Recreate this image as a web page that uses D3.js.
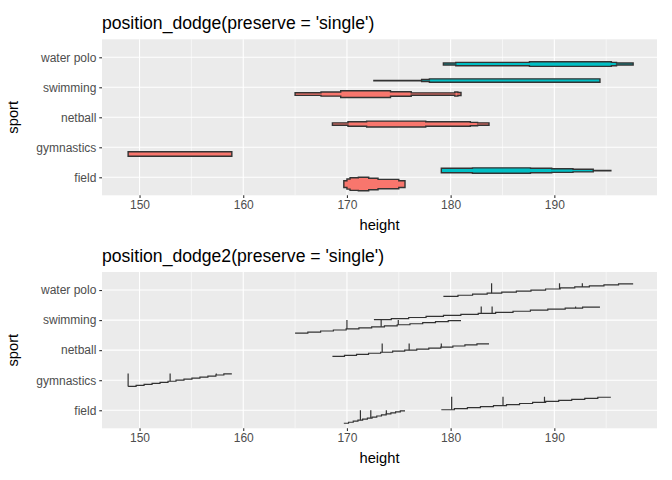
<!DOCTYPE html>
<html><head><meta charset="utf-8">
<script src="https://cdn.jsdelivr.net/npm/d3@7"></script>
<style>body{margin:0;background:#fff}svg{display:block;font-family:"Liberation Sans",Arial,sans-serif}</style>
</head><body><svg id="c" width="672" height="480"></svg>
<script>
// ---- data ----
const sports = ["field", "gymnastics", "netball", "swimming", "water polo"];
const xTicks = [150, 160, 170, 180, 190];
const xMinor = [155, 165, 175, 185, 195];
const groupSport = ["field", "field", "gymnastics", "netball", "swimming", "swimming", "water polo"];
const groupSex = ["F", "M", "F", "F", "F", "M", "M"];
// step breaks (height) and relative violin widths between breaks
const breaks = [
  [169.7, 170.0, 170.3, 171.1, 172.1, 173.0, 175.0, 175.6],
  [179.1, 182.1, 187.7, 189.75, 191.8, 193.75, 195.45],
  [148.9, 158.9],
  [168.6, 170.1, 171.9, 177.6, 181.9, 182.6, 183.7],
  [165.0, 167.5, 169.4, 174.2, 176.2, 180.4, 180.7, 181.0],
  [172.6, 177.2, 177.95, 194.4],
  [179.3, 180.5, 187.6, 195.5, 196.0, 197.6]
];
const widths = [
  [0.5, 0.75, 0.93, 1.0, 0.85, 0.7, 0.5],
  [0.33, 0.4, 0.33, 0.27, 0.2, 0.02],
  [0.33],
  [0.18, 0.33, 0.44, 0.33, 0.25, 0.18],
  [0.2, 0.31, 0.5, 0.33, 0.18, 0.3, 0.22],
  [0.02, 0.15, 0.25],
  [0.15, 0.25, 0.34, 0.25, 0.15]
];
// vertical spikes in the dodge2 panel (heights)
const spikes = [
  [171.3, 172.3, 173.8],
  [180.1, 185.05, 189.05],
  [148.9, 152.95, 157.4],
  [173.4, 176.0, 179.1],
  [170.0, 173.3, 174.95],
  [182.95, 184.0, 192.05],
  [183.95, 190.5, 192.7]
];
const sexColor = {F: "#F8766D", M: "#00BFC4"};

// ---- layout ----
const svg = d3.select("#c");
const L = 102, R = 657;
const x = d3.scaleLinear().domain([146.38, 199.9]).range([L, R]);
const panels = [
  {top: 39.3, bottom: 195.3, title: "position_dodge(preserve = 'single')", kind: 1},
  {top: 272, bottom: 428.3, title: "position_dodge2(preserve = 'single')", kind: 2}
];
const nSteps = 13;
const slotW = 0.45;
const FONT = "Liberation Sans, Arial, sans-serif";

panels.forEach(p => {
  const y = d3.scalePoint().domain(sports).range([p.bottom, p.top]).padding(0.6);
  const step = y.step();
  const g = svg.append("g");
  g.append("rect").attr("x", L).attr("y", p.top).attr("width", R - L).attr("height", p.bottom - p.top).attr("fill", "#EBEBEB");
  g.selectAll(".mn").data(xMinor).join("line").attr("x1", d => x(d)).attr("x2", d => x(d))
    .attr("y1", p.top).attr("y2", p.bottom).attr("stroke", "#fff").attr("stroke-width", 0.55);
  g.selectAll(".mj").data(xTicks).join("line").attr("x1", d => x(d)).attr("x2", d => x(d))
    .attr("y1", p.top).attr("y2", p.bottom).attr("stroke", "#fff").attr("stroke-width", 1.1);
  g.selectAll(".my").data(sports).join("line").attr("x1", L).attr("x2", R)
    .attr("y1", d => y(d)).attr("y2", d => y(d)).attr("stroke", "#fff").attr("stroke-width", 1.1);

  const idx = d3.range(groupSport.length);
  if (p.kind === 1) {
    idx.forEach(i => {
      const present = idx.filter(j => groupSport[j] === groupSport[i]);
      const k = present.indexOf(i);
      const off = (k - 0.5) * slotW; // two slots preserved
      const cy = y(groupSport[i]) - off * step;
      const b = breaks[i], w = widths[i];
      const hw = v => v * (slotW / 2) * step;
      let top = [], bot = [];
      for (let s = 0; s < w.length; s++) {
        top.push([x(b[s]), cy - hw(w[s])], [x(b[s + 1]), cy - hw(w[s])]);
        bot.push([x(b[s]), cy + hw(w[s])], [x(b[s + 1]), cy + hw(w[s])]);
      }
      const pts = top.concat(bot.reverse());
      g.append("path").attr("d", d3.line()(pts) + "Z")
        .attr("fill", sexColor[groupSex[i]]).attr("stroke", "#333333").attr("stroke-width", 1.4)
        .attr("stroke-linejoin", "miter");
    });
  } else {
    idx.forEach(i => {
      const present = idx.filter(j => groupSport[j] === groupSport[i]);
      const k = present.indexOf(i);
      const total = present.length * slotW;
      const lo = -total / 2 + k * slotW, hi = lo + slotW;
      const yc = y(groupSport[i]);
      const h0 = breaks[i][0], h1 = breaks[i][breaks[i].length - 1];
      const yAt = h => {
        let s = Math.min(nSteps - 1, Math.floor((h - h0) / (h1 - h0) * nSteps));
        return yc - (lo + (s + 0.5) / nSteps * slotW) * step;
      };
      const pts = [];
      for (let s = 0; s < nSteps; s++) {
        const yy = yc - (lo + (s + 0.5) / nSteps * slotW) * step;
        pts.push([x(h0 + (h1 - h0) * s / nSteps), yy], [x(h0 + (h1 - h0) * (s + 1) / nSteps), yy]);
      }
      g.append("path").attr("d", d3.line()(pts)).attr("fill", "none")
        .attr("stroke", "#333333").attr("stroke-width", 1.2);
      g.selectAll(null).data(spikes[i]).join("line")
        .attr("x1", d => x(d)).attr("x2", d => x(d))
        .attr("y1", d => yAt(d)).attr("y2", yc - hi * step)
        .attr("stroke", "#333333").attr("stroke-width", 1.2);
    });
  }

  // axes
  const ax = g.append("g").attr("transform", `translate(0,${p.bottom})`)
    .call(d3.axisBottom(x).tickValues(xTicks).tickSize(2.75).tickPadding(2.9).tickFormat(d3.format("d")));
  ax.select(".domain").remove();
  ax.selectAll("line").attr("stroke", "#333333").attr("stroke-width", 1.1);
  ax.selectAll("text").attr("fill", "#4D4D4D").attr("font-size", "12px").attr("font-family", FONT);
  const ay = g.append("g").attr("transform", `translate(${L},0)`)
    .call(d3.axisLeft(y).tickSize(2.75).tickPadding(2.9));
  ay.select(".domain").remove();
  ay.selectAll("line").attr("stroke", "#333333").attr("stroke-width", 1.1);
  ay.selectAll("text").attr("fill", "#4D4D4D").attr("font-size", "12px").attr("font-family", FONT);

  g.append("text").attr("x", L).attr("y", p.top - 10.5).attr("font-size", "17.6px").attr("fill", "#000").text(p.title);
  g.append("text").attr("x", (L + R) / 2).attr("y", p.bottom + 35).attr("text-anchor", "middle")
    .attr("font-size", "14.7px").attr("fill", "#000").text("height");
  g.append("text").attr("transform", `translate(17.5,${(p.top + p.bottom) / 2}) rotate(-90)`)
    .attr("text-anchor", "middle").attr("font-size", "14.7px").attr("fill", "#000").text("sport");
});
</script></body></html>
